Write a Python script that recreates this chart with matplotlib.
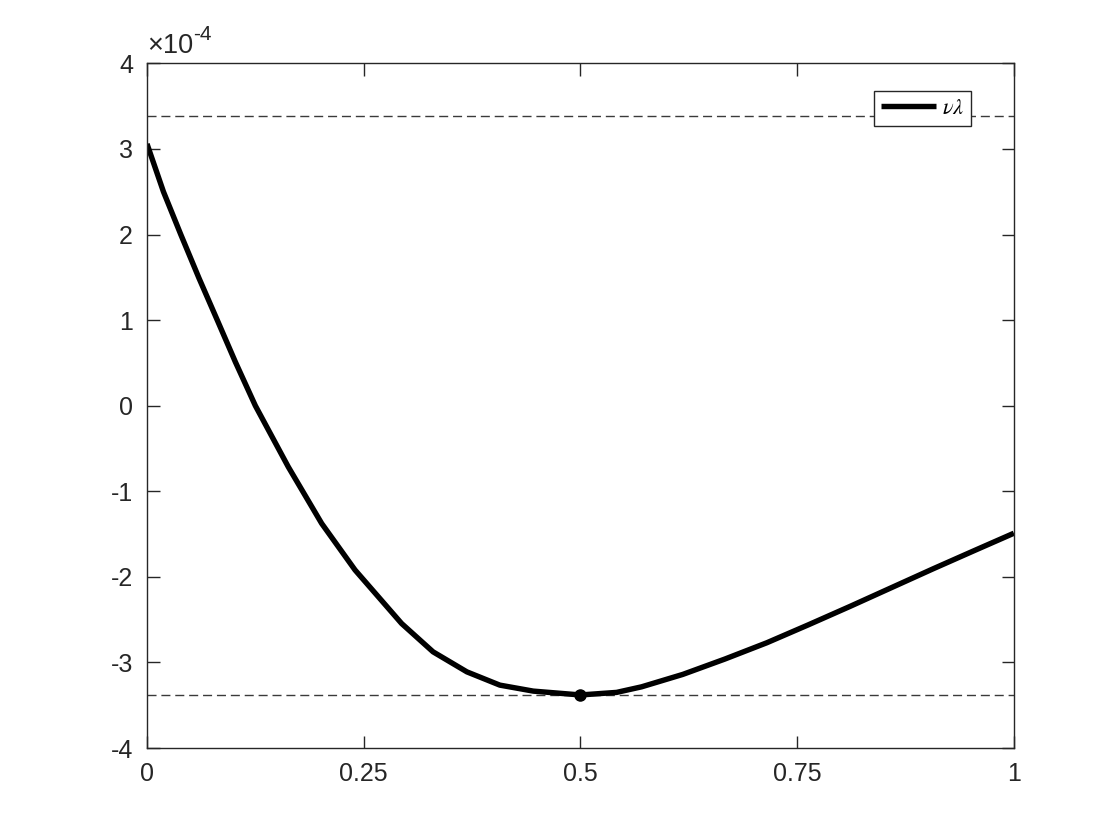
import matplotlib
matplotlib.use("Agg")
import matplotlib.pyplot as plt
import numpy as np

# Data (y in units of 1e-4)
x_vals = [0, 0.019, 0.039, 0.060, 0.0815, 0.102, 0.125, 0.163, 0.2015, 0.240,
          0.2937, 0.330, 0.369, 0.407, 0.4456, 0.5, 0.5417, 0.5705, 0.618,
          0.6667, 0.715, 0.763, 0.811, 0.859, 0.907, 0.955, 1.0]
y_vals = [3.06, 2.50, 2.0, 1.49, 0.99, 0.51, 0.0, -0.715, -1.376, -1.92,
          -2.545, -2.876, -3.11, -3.265, -3.335, -3.38, -3.35, -3.285, -3.14,
          -2.96, -2.77, -2.56, -2.345, -2.125, -1.905, -1.69, -1.49]
bound = 3.38
min_x = 0.5
min_y = -3.38
scale = 1e-4
x_ticks = [0, 0.25, 0.5, 0.75, 1]
x_tick_labels = ["0", "0.25", "0.5", "0.75", "1"]
y_ticks = [-4, -3, -2, -1, 0, 1, 2, 3, 4]

plt.rcParams['font.family'] = ['Liberation Sans', 'DejaVu Sans']
plt.rcParams['mathtext.fontset'] = 'stix'

fig = plt.figure(figsize=(11.2, 8.4), dpi=100)
ax = fig.add_axes([0.13125, 0.1095, 0.774, 0.815])

xs = np.array(x_vals)
ys = np.array(y_vals) * scale

ax.axhline(bound * scale, color='#3a3a3a', lw=1.0, ls=(0, (6.5, 3.5)))
ax.axhline(-bound * scale, color='#3a3a3a', lw=1.0, ls=(0, (6.5, 3.5)))
ax.plot(xs, ys, color='black', lw=3.9, solid_joinstyle='round',
        solid_capstyle='butt', label=r'$\nu\lambda$')
ax.plot([min_x], [min_y * scale], 'o', color='black', ms=8)

ax.set_xlim(0, 1)
ax.set_ylim(-4 * scale, 4 * scale)
ax.set_xticks(x_ticks)
ax.set_xticklabels(x_tick_labels)
ax.set_yticks([v * scale for v in y_ticks])
ax.set_yticklabels([str(v) for v in y_ticks])

col = '#262626'
for s in ax.spines.values():
    s.set_color(col)
    s.set_linewidth(1.0)
ax.tick_params(direction='in', length=9, width=1.0, colors=col,
               labelsize=18, top=True, right=True, pad=10)

t = ax.text(0.0, 1.006, '\u00d710', transform=ax.transAxes,
            fontsize=19.5, color=col, ha='left', va='bottom')
ax.annotate('-4', xy=(1.0, 0.6), xycoords=t, fontsize=15, color=col,
            ha='left', va='bottom')

leg = ax.legend(loc='upper right', fontsize=16, frameon=True, fancybox=False,
                edgecolor=col, framealpha=1.0, handlelength=2.5,
                borderpad=0.3, borderaxespad=0.0,
                bbox_to_anchor=(0.950, 0.959), handletextpad=0.25)
leg.get_frame().set_linewidth(1.0)

fig.savefig('out.png', dpi=100, facecolor='white')
